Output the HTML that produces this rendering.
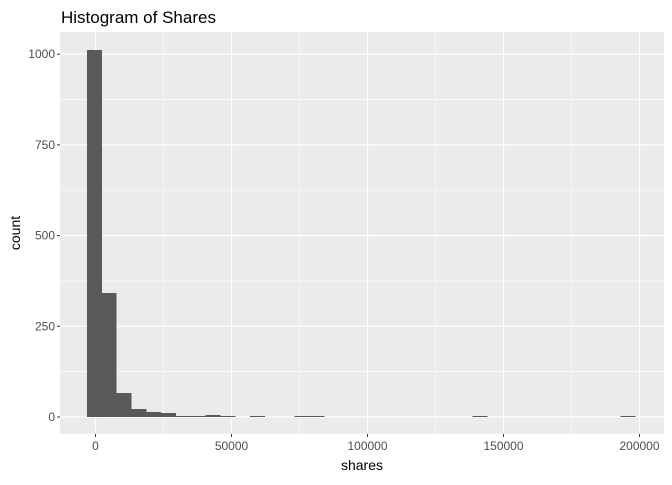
<!DOCTYPE html>
<html><head><meta charset="utf-8"><style>
body{margin:0;background:#fff;font-family:"Liberation Sans",Arial,sans-serif}
</style></head><body>
<svg id="c" width="672" height="480" xmlns="http://www.w3.org/2000/svg">
<text x="61" y="23" font-size="17" fill="#000">Histogram of Shares</text>
<rect x="60" y="32" width="604" height="402" fill="#ebebeb"/>
<g id="grid"></g><g id="bars" shape-rendering="crispEdges"></g><g id="axes"></g>
<text x="362" y="470" font-size="14" text-anchor="middle" fill="#000">shares</text>
<text transform="translate(20,233) rotate(-90)" font-size="14" text-anchor="middle" fill="#000">count</text>
</svg>
<script>
const binStart = -3100;
const binWidth = 5450;
const binIndex = [0,1,2,3,4,5,6,7,8,9,11,14,15,26,36];
const counts = [1011,342,66,22,14,11,3,3,6,3,3,3,3,3,3];
const xTicks = [0,50000,100000,150000,200000];
const yTicks = [0,250,500,750,1000];
const NS="http://www.w3.org/2000/svg";
const px0=95.5, pxPer=136/50000, py0=417, pyPer=90.7/250;
const X=v=>px0+v*pxPer, Y=v=>py0-v*pyPer;
function mk(t,a,p){const e=document.createElementNS(NS,t);for(const k in a)e.setAttribute(k,a[k]);p.appendChild(e);return e;}
const g=document.getElementById('grid'),b=document.getElementById('bars'),ax=document.getElementById('axes');
for(let i=0;i<yTicks.length;i++){
 if(i<yTicks.length-1){const m=Y((yTicks[i]+yTicks[i+1])/2);
  const l=mk('line',{x1:60,x2:664,y1:m,y2:m,stroke:'#fff','stroke-width':0.6},g);
  }
 const y=Y(yTicks[i]);
 const l=mk('line',{x1:60,x2:664,y1:y,y2:y,stroke:'#fff','stroke-width':1.2},g);
 
 const t=mk('line',{x1:57,x2:60,y1:y,y2:y,stroke:'#333'},ax);
 
 const tx=mk('text',{x:55,y:y+4,'font-size':12,'text-anchor':'end',fill:'#4d4d4d'},ax);tx.textContent=yTicks[i];
 
}
for(let i=0;i<xTicks.length;i++){
 if(i<xTicks.length-1){const m=X((xTicks[i]+xTicks[i+1])/2);
  const l=mk('line',{x1:m,x2:m,y1:32,y2:434,stroke:'#fff','stroke-width':0.6},g);
  }
 const x=X(xTicks[i]);
 const l=mk('line',{x1:x,x2:x,y1:32,y2:434,stroke:'#fff','stroke-width':1.2},g);
 
 const t=mk('line',{x1:x,x2:x,y1:434,y2:437,stroke:'#333'},ax);
 
 const tx=mk('text',{x:x,y:450,'font-size':12,'text-anchor':'middle',fill:'#4d4d4d'},ax);tx.textContent=xTicks[i];
 
}
for(let i=0;i<binIndex.length;i++){
 const x1=X(binStart+binIndex[i]*binWidth),x2=X(binStart+(binIndex[i]+1)*binWidth);
 const h=Math.max(1,Y(0)-Y(counts[i]));
 const r=mk('rect',{x:x1,y:Y(0)-h,width:x2-x1,height:h,fill:'#595959'},b);
 
 
}
</script>
</body></html>
